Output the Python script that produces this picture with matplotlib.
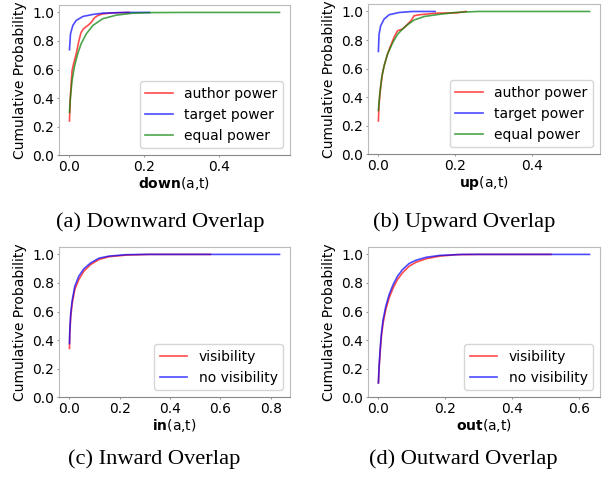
import matplotlib
matplotlib.use('Agg')
import matplotlib.pyplot as plt

# ---------------------------------------------------------------------------
# Data read off the reference: empirical CDF curves (x value, cumulative prob)
# ---------------------------------------------------------------------------

# (a) downward overlap
down_author_x = [0.0, 0.0018, 0.0045, 0.007, 0.011, 0.018, 0.025, 0.031, 0.0375,
                 0.049, 0.058, 0.067, 0.076, 0.089, 0.116, 0.159]
down_author_y = [0.24, 0.385, 0.50, 0.594, 0.64, 0.71, 0.80, 0.86, 0.886,
                 0.909, 0.93, 0.963, 0.979, 0.99, 0.997, 1.0]
down_target_x = [0.0, 0.0027, 0.009, 0.018, 0.036, 0.0625, 0.089, 0.15, 0.214]
down_target_y = [0.739, 0.85, 0.909, 0.944, 0.972, 0.986, 0.995, 1.0, 1.0]
down_equal_x = [0.0, 0.0027, 0.007, 0.013, 0.022, 0.031, 0.045, 0.0625, 0.089,
                0.125, 0.17, 0.223, 0.3, 0.561]
down_equal_y = [0.30, 0.41, 0.524, 0.618, 0.711, 0.78, 0.85, 0.909, 0.956,
                0.981, 0.995, 0.999, 1.0, 1.0]

# (b) upward overlap
up_author_x = [0.0, 0.0017, 0.006, 0.0105, 0.015, 0.0236, 0.032, 0.041, 0.05,
               0.063, 0.072, 0.085, 0.093, 0.107, 0.15, 0.203, 0.229]
up_author_y = [0.233, 0.353, 0.47, 0.563, 0.62, 0.70, 0.76, 0.82, 0.865,
               0.877, 0.90, 0.935, 0.97, 0.977, 0.988, 0.99, 1.0]
up_target_x = [0.0, 0.0017, 0.006, 0.015, 0.028, 0.054, 0.089, 0.148]
up_target_y = [0.72, 0.84, 0.90, 0.947, 0.977, 0.993, 1.0, 1.0]
up_equal_x = [0.0, 0.0035, 0.0087, 0.015, 0.0236, 0.037, 0.05, 0.063, 0.076,
              0.093, 0.12, 0.159, 0.2, 0.26, 0.551]
up_equal_y = [0.307, 0.423, 0.54, 0.62, 0.70, 0.78, 0.84, 0.877, 0.907,
              0.94, 0.965, 0.98, 0.993, 1.0, 1.0]

# (c) inward overlap
in_vis_x = [0.0, 0.0013, 0.005, 0.011, 0.021, 0.037, 0.057, 0.084, 0.118,
            0.157, 0.225, 0.32, 0.56]
in_vis_y = [0.341, 0.447, 0.565, 0.659, 0.753, 0.824, 0.882, 0.929, 0.965,
            0.984, 0.995, 1.0, 1.0]
in_novis_x = [0.0, 0.0013, 0.005, 0.011, 0.021, 0.037, 0.057, 0.084, 0.118,
              0.157, 0.225, 0.30, 0.835]
in_novis_y = [0.376, 0.47, 0.588, 0.68, 0.776, 0.847, 0.899, 0.94, 0.974,
              0.988, 0.998, 1.0, 1.0]

# (d) outward overlap
out_vis_x = [0.0, 0.002, 0.005, 0.009, 0.014, 0.022, 0.032, 0.044, 0.057,
             0.072, 0.092, 0.113, 0.143, 0.183, 0.233, 0.30, 0.515]
out_vis_y = [0.10, 0.20, 0.307, 0.425, 0.519, 0.613, 0.695, 0.765, 0.824,
             0.871, 0.918, 0.946, 0.97, 0.988, 0.998, 1.0, 1.0]
out_novis_x = [0.0, 0.002, 0.005, 0.009, 0.014, 0.022, 0.032, 0.044, 0.057,
               0.072, 0.092, 0.113, 0.143, 0.183, 0.25, 0.63]
out_novis_y = [0.10, 0.214, 0.33, 0.448, 0.542, 0.636, 0.718, 0.789, 0.847,
               0.894, 0.937, 0.96, 0.98, 0.993, 1.0, 1.0]

power_labels = ['author power', 'target power', 'equal power']
vis_labels = ['visibility', 'no visibility']
captions = ['(a) Downward Overlap', '(b) Upward Overlap',
            '(c) Inward Overlap', '(d) Outward Overlap']
xlabels = [r'$\bf{down}$(a,t)', r'$\bf{up}$(a,t)',
           r'$\bf{in}$(a,t)', r'$\bf{out}$(a,t)']


def style_axes(ax, xlabel):
    """Common look of the four CDF panels."""
    ax.set_ylim(0, 1.05)
    ax.set_yticks([0.0, 0.2, 0.4, 0.6, 0.8, 1.0])
    ax.set_ylabel('Cumulative Probability', fontsize=10, labelpad=4)
    ax.set_xlabel(xlabel, fontsize=10, labelpad=1)
    ax.tick_params(labelsize=10, color='#999999', length=1.5, pad=1.8)
    for name, spine in ax.spines.items():
        spine.set_color('#bbbbbb' if name != 'bottom' else '#888888')
    ax.legend(loc='lower right', fontsize=10)


fig = plt.figure(figsize=(6.08, 4.82), dpi=100)

# axes boxes in figure fractions: [left, bottom, width, height]
boxes = [[0.097, 0.678, 0.38, 0.311],
         [0.605, 0.680, 0.382, 0.311],
         [0.097, 0.176, 0.38, 0.311],
         [0.605, 0.176, 0.382, 0.311]]
axes = [fig.add_axes(b) for b in boxes]

lw = 1.2
alpha = 0.7

# (a) and (b): three power settings
for ax, series in [(axes[0], [(down_author_x, down_author_y),
                              (down_target_x, down_target_y),
                              (down_equal_x, down_equal_y)]),
                   (axes[1], [(up_author_x, up_author_y),
                              (up_target_x, up_target_y),
                              (up_equal_x, up_equal_y)])]:
    for (x, y), c, lab in zip(series, ['r', 'b', 'g'], power_labels):
        ax.plot(x, y, color=c, alpha=alpha, lw=lw, label=lab)

# (c) and (d): visibility vs no visibility
for ax, series in [(axes[2], [(in_vis_x, in_vis_y), (in_novis_x, in_novis_y)]),
                   (axes[3], [(out_vis_x, out_vis_y), (out_novis_x, out_novis_y)])]:
    for (x, y), c, lab in zip(series, ['r', 'b'], vis_labels):
        ax.plot(x, y, color=c, alpha=alpha, lw=lw, label=lab)

for ax, xl in zip(axes, xlabels):
    style_axes(ax, xl)
axes[0].set_xticks([0.0, 0.2, 0.4])
axes[1].set_xticks([0.0, 0.2, 0.4])

# sub-figure captions (serif, like the paper)
cap_pos = [(0.263, 0.539), (0.763, 0.539), (0.253, 0.048), (0.762, 0.048)]
for (cx, cy), cap in zip(cap_pos, captions):
    fig.text(cx, cy, cap, ha='center', va='center', fontsize=16.2,
             family='Liberation Serif')

fig.savefig('out.png', dpi=100)
plt.close(fig)
